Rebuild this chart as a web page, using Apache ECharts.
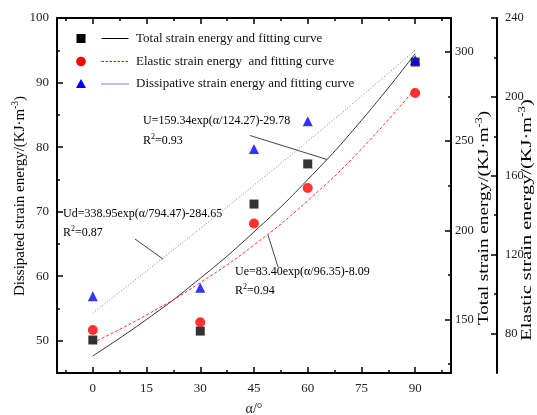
<!DOCTYPE html>
<html><head><meta charset="utf-8">
<script src="https://cdn.jsdelivr.net/npm/echarts@6/dist/echarts.min.js"></script>
<style>html,body{margin:0;padding:0;background:#fff}#c{width:537px;height:415px}</style>
</head><body><div id="c"></div>
<script>
// ---- data ----
const alpha = [0, 30, 45, 60, 90];
const totalEnergy = [138.5, 143.5, 214.7, 237.2, 294.3];
const elasticEnergy = [81.8, 85.7, 135.8, 153.8, 202.0];
const dissipatedEnergy = [56.9, 58.2, 79.7, 84.0, 93.5];
const fitAlpha = [0, 15, 30, 45, 60, 75, 90];
const totalFit = [129.6, 150.0, 173.1, 199.1, 228.4, 261.6, 299.0];
const elasticFit = [75.3, 89.4, 105.8, 124.9, 147.4, 173.6, 204.2];
const dissipatedFit = [54.3, 60.8, 67.4, 74.1, 80.9, 87.9, 95.0];
const xTicks = [0, 15, 30, 45, 60, 75, 90];
const xMinor = [-7.5, 7.5, 22.5, 37.5, 52.5, 67.5, 82.5, 97.5];
const leftTicks = [50, 60, 70, 80, 90, 100];
const leftMinor = [55, 65, 75, 85, 95];
const totalTicks = [150, 200, 250, 300];
const totalMinor = [125, 175, 225, 275];
const elasticTicks = [80, 120, 160, 200, 240];
const elasticMinor = [100, 140, 180, 220];

const FF = 'Liberation Serif';
const pair = (xs, ys) => xs.map((x, i) => [x, ys[i]]);
const lbl = {color: '#222', fontFamily: FF, fontSize: 13};
const lblR = {color: '#222', fontFamily: FF, fontSize: 12.5};
const tickStyle = {color: '#000', width: 1.5};
const axLine = {onZero: false, lineStyle: {color: '#000', width: 2}};
const richSup = {
  n: {fontFamily: FF, fontSize: 15, color: '#222', verticalAlign: 'bottom'},
  sup: {fontFamily: FF, fontSize: 9.5, color: '#222', verticalAlign: 'bottom', padding: [0, 0, 7, 0]}
};
const richAnn = {
  n: {fontFamily: FF, fontSize: 12, color: '#222', verticalAlign: 'bottom'},
  sup: {fontFamily: FF, fontSize: 8, color: '#222', verticalAlign: 'bottom', padding: [0, 0, 6, 0]}
};

function xAx(pos, vals, len, showLine, showLabel) {
  return {type: 'value', min: -10, max: 100, position: pos,
    axisLine: showLine ? axLine : {show: false, onZero: false},
    axisTick: {show: true, inside: true, length: len, customValues: vals, lineStyle: tickStyle},
    axisLabel: showLabel ? Object.assign({customValues: vals, margin: 9}, lbl) : {show: false},
    splitLine: {show: false}};
}
function yAx(pos, offset, min, max, vals, len, showLine, showLabel, margin, style) {
  return {type: 'value', min: min, max: max, position: pos, offset: offset,
    axisLine: showLine ? axLine : {show: false, onZero: false},
    axisTick: {show: true, inside: true, length: len, customValues: vals, lineStyle: tickStyle},
    axisLabel: showLabel ? Object.assign({customValues: vals, margin: margin}, style || lbl) : {show: false},
    splitLine: {show: false}};
}

const chart = echarts.init(document.getElementById('c'), null, {renderer: 'canvas'});
const legendY = [38.5, 61.5, 84];
chart.setOption({
  animation: false,
  backgroundColor: '#fff',
  grid: {left: 57, right: 86, top: 18, bottom: 42, outerBoundsMode: 'none'},
  xAxis: [
    xAx('bottom', xTicks, 6, true, true),
    xAx('bottom', xMinor, 3, false, false),
    xAx('top', xTicks, 6, true, false),
    xAx('top', xMinor, 3, false, false)
  ],
  yAxis: [
    yAx('left', 0, 45, 100, leftTicks, 6, true, true, 8),
    yAx('left', 0, 45, 100, leftMinor, 3, false, false, 8),
    yAx('right', 0, 120, 319, totalTicks, 6, true, true, 4, lblR),
    yAx('right', 0, 120, 319, totalMinor, 3, false, false, 4),
    yAx('right', 46, 60, 240, elasticTicks, 6, true, true, 8, lblR),
    yAx('right', 46, 60, 240, elasticMinor, 3, false, false, 8)
  ],
  series: [
    {type: 'line', name: 'Total fit', xAxisIndex: 0, yAxisIndex: 2, data: pair(fitAlpha, totalFit),
      smooth: true, showSymbol: false, lineStyle: {color: '#333', width: 1}, z: 2},
    {type: 'line', name: 'Elastic fit', xAxisIndex: 0, yAxisIndex: 4, data: pair(fitAlpha, elasticFit),
      smooth: true, showSymbol: false, lineStyle: {color: '#ff3030', width: 1, type: [3, 2]}, z: 2},
    {type: 'line', name: 'Dissipated fit', xAxisIndex: 0, yAxisIndex: 0, data: pair(fitAlpha, dissipatedFit),
      smooth: true, showSymbol: false, lineStyle: {color: '#7070ff', width: 1, type: [1, 2]}, z: 2},
    {type: 'scatter', name: 'Total strain energy', xAxisIndex: 0, yAxisIndex: 2, data: pair(alpha, totalEnergy),
      symbol: 'rect', symbolSize: 9, itemStyle: {color: '#000'}, z: 3},
    {type: 'scatter', name: 'Elastic strain energy', xAxisIndex: 0, yAxisIndex: 4, data: pair(alpha, elasticEnergy),
      symbol: 'circle', symbolSize: 10, itemStyle: {color: '#ff0000'}, z: 3},
    {type: 'scatter', name: 'Dissipative strain energy', xAxisIndex: 0, yAxisIndex: 0, data: pair(alpha, dissipatedEnergy),
      symbol: 'triangle', symbolSize: 10, itemStyle: {color: '#0000ff'}, z: 3}
  ],
  graphic: [
    // legend
    {type: 'rect', shape: {x: 76.5, y: legendY[0] - 4.5, width: 9, height: 9}, style: {fill: '#000'}},
    {type: 'line', shape: {x1: 101.5, y1: legendY[0], x2: 128.5, y2: legendY[0]}, style: {stroke: '#000', lineWidth: 1}},
    {type: 'text', x: 136, y: legendY[0], style: {text: 'Total strain energy and fitting curve', fontFamily: FF, fontSize: 13, fill: '#111', verticalAlign: 'middle'}},
    {type: 'circle', shape: {cx: 81, cy: legendY[1], r: 4.8}, style: {fill: '#ff0000'}},
    {type: 'line', shape: {x1: 101.5, y1: legendY[1], x2: 128.5, y2: legendY[1]}, style: {stroke: '#ff0000', lineWidth: 1, lineDash: [2.5, 1.5]}},
    {type: 'text', x: 136, y: legendY[1], style: {text: 'Elastic strain energy  and fitting curve', fontFamily: FF, fontSize: 13, fill: '#111', verticalAlign: 'middle'}},
    {type: 'polygon', shape: {points: [[81, legendY[2] - 5], [86, legendY[2] + 4], [76, legendY[2] + 4]]}, style: {fill: '#0000ff'}},
    {type: 'line', shape: {x1: 101.5, y1: legendY[2], x2: 128.5, y2: legendY[2]}, style: {stroke: '#0000cc', lineWidth: 1, lineDash: [1, 1]}},
    {type: 'text', x: 136, y: legendY[2], style: {text: 'Dissipative strain energy and fitting curve', fontFamily: FF, fontSize: 13, fill: '#111', verticalAlign: 'middle'}},
    // annotations
    {type: 'text', x: 143, y: 121, style: {text: '{n|U=159.34exp(α/124.27)-29.78}', rich: richAnn, verticalAlign: 'middle'}},
    {type: 'text', x: 143, y: 140, style: {text: '{n|R}{sup|2}{n|=0.93}', rich: richAnn, verticalAlign: 'middle'}},
    {type: 'line', shape: {x1: 250, y1: 135.5, x2: 327, y2: 159.5}, style: {stroke: '#444', lineWidth: 1}},
    {type: 'text', x: 63, y: 214, style: {text: '{n|Ud=338.95exp(α/794.47)-284.65}', rich: richAnn, verticalAlign: 'middle'}},
    {type: 'text', x: 63, y: 232, style: {text: '{n|R}{sup|2}{n|=0.87}', rich: richAnn, verticalAlign: 'middle'}},
    {type: 'line', shape: {x1: 135, y1: 239, x2: 163, y2: 259}, style: {stroke: '#444', lineWidth: 1}},
    {type: 'text', x: 235, y: 271.5, style: {text: '{n|Ue=83.40exp(α/96.35)-8.09}', rich: richAnn, verticalAlign: 'middle'}},
    {type: 'text', x: 235, y: 289.5, style: {text: '{n|R}{sup|2}{n|=0.94}', rich: richAnn, verticalAlign: 'middle'}},
    {type: 'line', shape: {x1: 268, y1: 235, x2: 278, y2: 267}, style: {stroke: '#444', lineWidth: 1}},
    // axis names
    {type: 'text', x: 19, y: 196, rotation: Math.PI / 2, style: {text: '{n|Dissipated strain energy/(KJ·m}{sup|-3}{n|)}', rich: richSup, align: 'center', verticalAlign: 'middle'}},
    {type: 'text', x: 483, y: 218, rotation: Math.PI / 2, scaleX: 1.28, style: {text: '{n|Total strain energy/(KJ·m}{sup|-3}{n|)}', rich: richSup, align: 'center', verticalAlign: 'middle'}},
    {type: 'text', x: 526, y: 220, rotation: Math.PI / 2, scaleX: 1.36, style: {text: '{n|Elastic strain energy/(KJ·m}{sup|-3}{n|)}', rich: richSup, align: 'center', verticalAlign: 'middle'}},
    {type: 'text', x: 254, y: 409, style: {text: 'α/°', fontFamily: FF, fontSize: 14, fill: '#222', align: 'center', verticalAlign: 'middle'}}
  ]
});
</script></body></html>
